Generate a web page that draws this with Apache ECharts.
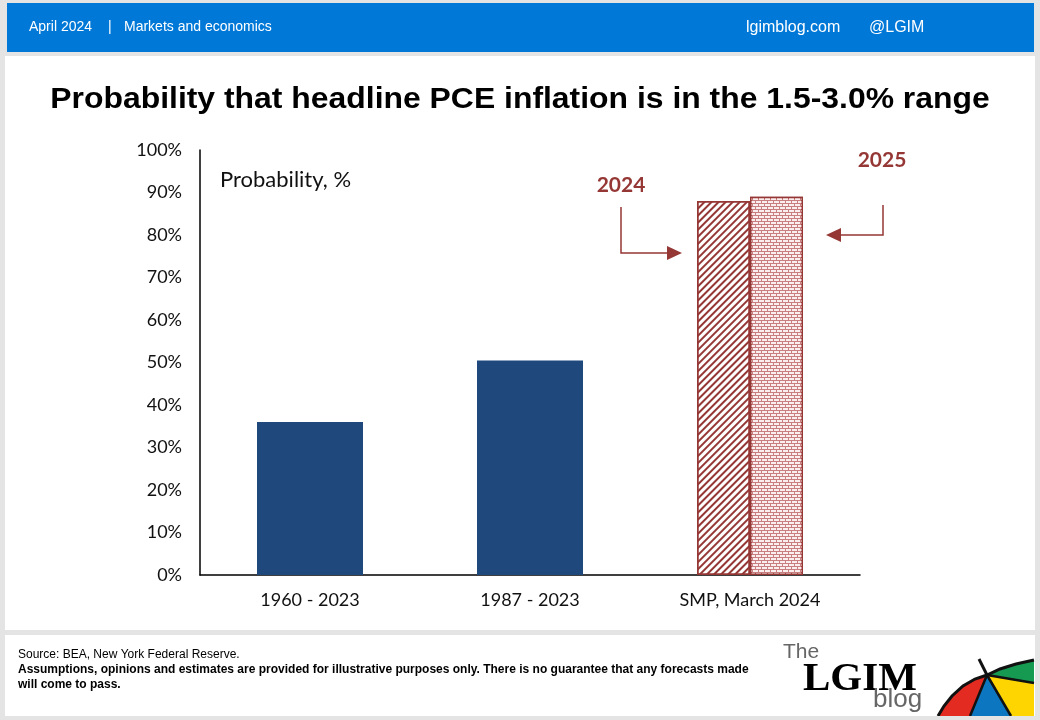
<!DOCTYPE html>
<html>
<head>
<meta charset="utf-8">
<script src="https://cdn.jsdelivr.net/npm/echarts@6/dist/echarts.min.js"></script>
<style>
html,body{margin:0;padding:0;background:#e4e4e4;}
#chart{width:1040px;height:720px;}
</style>
</head>
<body>
<div id="chart"></div>
<script>
// ---- data ----
const categories = ['1960 - 2023', '1987 - 2023', 'SMP, March 2024'];
const historical = [36, 50.5, null];
const smp2024 = [null, null, 88];
const smp2025 = [null, null, 89];
const yMin = 0, yMax = 100, yStep = 10;
const titleText = 'Probability that headline PCE inflation is in the 1.5-3.0% range';
const yAxisName = 'Probability, %';
const label2024 = '2024';
const label2025 = '2025';
const headerLeft = ['April 2024', '|', 'Markets and economics'];
const headerRight = ['lgimblog.com', '@LGIM'];
const footerSource = 'Source: BEA, New York Federal Reserve.';
const footerDisclaimer = 'Assumptions, opinions and estimates are provided for illustrative purposes only. There is no guarantee that any forecasts made\nwill come to pass.';

const RED = '#953735';
const BLUE = '#1F497D';
const narrow = "'Liberation Sans Narrow', 'Liberation Sans', Arial, sans-serif";

const chart = echarts.init(document.getElementById('chart'), null, {renderer: 'canvas'});

const apex = [987, 675];
const leftArc = [[987, 675], [975, 679], [963, 686], [952, 696], [944, 706], [938, 716]];
const rightArc = [[987, 675], [1000, 669], [1016, 664], [1034, 660]];

const graphics = [
  // panels
  {type: 'rect', shape: {x: 7, y: 3, width: 1027, height: 49}, style: {fill: '#0078d7'}, z: 0},
  {type: 'rect', shape: {x: 5, y: 56, width: 1030, height: 574}, style: {fill: '#ffffff'}, z: 0},
  {type: 'rect', shape: {x: 5, y: 635, width: 1030, height: 81}, style: {fill: '#ffffff'}, z: 0},
  // header
  {type: 'text', x: 29, y: 27, style: {text: headerLeft[0], fill: '#fff', font: '14px ' + narrow, textVerticalAlign: 'middle'}},
  {type: 'text', x: 108, y: 27, style: {text: headerLeft[1], fill: '#fff', font: '14px ' + narrow, textVerticalAlign: 'middle'}},
  {type: 'text', x: 124, y: 27, style: {text: headerLeft[2], fill: '#fff', font: '14px ' + narrow, textVerticalAlign: 'middle'}},
  {type: 'text', x: 746, y: 28, style: {text: headerRight[0], fill: '#fff', font: '16px ' + narrow, textVerticalAlign: 'middle'}},
  {type: 'text', x: 869, y: 28, style: {text: headerRight[1], fill: '#fff', font: '16px ' + narrow, textVerticalAlign: 'middle'}},
  // title
  {type: 'text', x: 520, y: 100, scaleX: 1.1, originX: 0, originY: 0,
   style: {text: titleText, fill: '#000', font: "bold 29px 'Liberation Sans', Arial, sans-serif", textAlign: 'center', textVerticalAlign: 'middle'}, z: 10},
  // y axis name inside plot
  {type: 'text', x: 220, y: 180, style: {text: yAxisName, fill: '#111', font: '22px Lato, sans-serif', textVerticalAlign: 'middle'}, z: 10},
  // annotations
  {type: 'text', x: 621, y: 185, style: {text: label2024, fill: RED, font: 'bold 21px Lato, sans-serif', textAlign: 'center', textVerticalAlign: 'middle'}, z: 10},
  {type: 'text', x: 882, y: 160, style: {text: label2025, fill: RED, font: 'bold 21px Lato, sans-serif', textAlign: 'center', textVerticalAlign: 'middle'}, z: 10},
  {type: 'polyline', shape: {points: [[621, 207], [621, 253], [670, 253]]}, style: {stroke: RED, lineWidth: 1.5, fill: null}, z: 10},
  {type: 'polygon', shape: {points: [[667, 246], [682, 253], [667, 260]]}, style: {fill: RED}, z: 10},
  {type: 'polyline', shape: {points: [[883, 205], [883, 235], [838, 235]]}, style: {stroke: RED, lineWidth: 1.5, fill: null}, z: 10},
  {type: 'polygon', shape: {points: [[841, 228], [826, 235], [841, 242]]}, style: {fill: RED}, z: 10},
  // footer
  {type: 'text', x: 18, y: 655, style: {text: footerSource, fill: '#000', font: '12px ' + narrow, textVerticalAlign: 'middle'}},
  {type: 'text', x: 18, y: 662, style: {text: footerDisclaimer, fill: '#000', font: 'bold 12px ' + narrow, lineHeight: 15, textVerticalAlign: 'top'}},
  // logo
  {type: 'text', x: 783, y: 652, style: {text: 'The', fill: '#666', font: '300 21px ' + narrow, textVerticalAlign: 'middle'}},
  {type: 'text', x: 803, y: 679, style: {text: 'LGIM', fill: '#000', font: 'bold 41px "Liberation Serif", "DejaVu Serif", serif', textVerticalAlign: 'middle'}},
  {type: 'text', x: 873, y: 700, style: {text: 'blog', fill: '#666', font: '300 26px ' + narrow, textVerticalAlign: 'middle'}},
  // umbrella
  {type: 'polygon', shape: {points: leftArc.concat([[970, 716]])}, style: {fill: '#e32b22'}, z: 5},
  {type: 'polygon', shape: {points: [apex, [970, 716], [1011, 716]]}, style: {fill: '#0c77c0'}, z: 5},
  {type: 'polygon', shape: {points: [apex, [1011, 716], [1034, 716], [1034, 683]]}, style: {fill: '#fed500'}, z: 5},
  {type: 'polygon', shape: {points: rightArc.concat([[1034, 683]])}, style: {fill: '#169a52'}, z: 5},
  {type: 'polyline', shape: {points: leftArc.slice().reverse().concat(rightArc.slice(1))}, style: {stroke: '#111', lineWidth: 3, fill: null}, z: 6},
  {type: 'line', shape: {x1: apex[0], y1: apex[1], x2: 970, y2: 716}, style: {stroke: '#111', lineWidth: 2.5}, z: 6},
  {type: 'line', shape: {x1: apex[0], y1: apex[1], x2: 1011, y2: 716}, style: {stroke: '#111', lineWidth: 2.5}, z: 6},
  {type: 'line', shape: {x1: apex[0], y1: apex[1], x2: 1034, y2: 683}, style: {stroke: '#111', lineWidth: 2.5}, z: 6},
  {type: 'line', shape: {x1: 979, y1: 659, x2: apex[0], y2: apex[1]}, style: {stroke: '#111', lineWidth: 3}, z: 6},
  {type: 'rect', shape: {x: 1035, y: 640, width: 6, height: 80}, style: {fill: '#e4e4e4'}, z: 7},
  {type: 'rect', shape: {x: 930, y: 716, width: 110, height: 6}, style: {fill: '#e4e4e4'}, z: 7}
];

const option = {
  backgroundColor: '#e4e4e4',
  animation: false,
  grid: {left: 200, right: 180, top: 150, bottom: 145},
  xAxis: [
    {
      type: 'category', data: categories,
      axisLine: {lineStyle: {color: '#000', width: 1.5}},
      axisTick: {show: false},
      axisLabel: {color: '#111', fontFamily: 'Lato, sans-serif', fontSize: 18, margin: 16}
    },
    {type: 'category', data: categories, show: false}
  ],
  yAxis: {
    type: 'value', min: yMin, max: yMax, interval: yStep,
    axisLine: {show: true, lineStyle: {color: '#000', width: 1.5}},
    axisTick: {show: false},
    splitLine: {show: false},
    axisLabel: {formatter: '{value}%', color: '#111', fontFamily: 'Lato, sans-serif', fontSize: 18, margin: 18}
  },
  series: [
    {
      type: 'bar', xAxisIndex: 0, data: historical, barWidth: 106,
      itemStyle: {color: BLUE}
    },
    {
      type: 'bar', xAxisIndex: 1, data: smp2024, barWidth: 53, barGap: '0%',
      itemStyle: {
        color: '#ffffff', borderColor: RED, borderWidth: 1.5,
        decal: {symbol: 'rect', color: RED, dashArrayX: [1, 0], dashArrayY: [1.8, 2.2], rotation: -Math.PI / 4, symbolSize: 1}
      }
    },
    {
      type: 'bar', xAxisIndex: 1, data: smp2025, barWidth: 53, barGap: '0%',
      itemStyle: {
        color: '#c97f7f', borderColor: RED, borderWidth: 1.5,
        decal: {symbol: 'rect', color: '#fbeeee', dashArrayX: [[5, 1], [2, 1, 3, 0]], dashArrayY: [2, 1], symbolSize: 1}
      }
    }
  ],
  graphic: graphics
};
chart.setOption(option);
</script>
</body>
</html>
